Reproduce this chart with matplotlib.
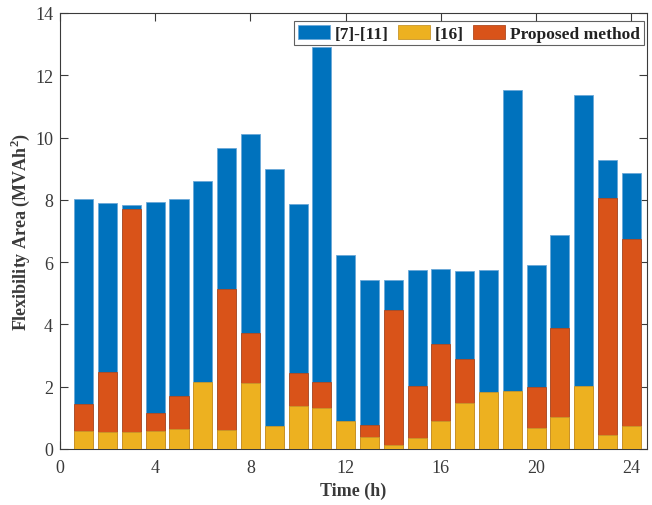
import numpy as np
import matplotlib
matplotlib.use("Agg")
import matplotlib.pyplot as plt

hours = np.arange(1, 25)
# [7]-[11]
ref_a = [8.02, 7.89, 7.85, 7.93, 8.03, 8.59, 9.68, 10.13, 9.00, 7.87, 12.90, 6.22,
         5.43, 5.42, 5.74, 5.79, 5.72, 5.76, 11.54, 5.92, 6.86, 11.38, 9.29, 8.87]
# Proposed method
proposed = [1.43, 2.46, 7.72, 1.14, 1.69, 2.10, 5.14, 3.73, 0.70, 2.45, 2.16, 0.85,
            0.77, 4.45, 2.02, 3.36, 2.88, 1.80, 1.80, 2.00, 3.88, 2.00, 8.05, 6.73]
# [16]
ref_b = [0.58, 0.56, 0.55, 0.57, 0.64, 2.14, 0.60, 2.13, 0.74, 1.39, 1.31, 0.90,
         0.37, 0.14, 0.34, 0.90, 1.49, 1.82, 1.85, 0.69, 1.03, 2.03, 0.45, 0.74]

blue = "#0072BD"
orange = "#D95319"
yellow = "#EDB120"
axcol = "#3a3a3a"

plt.rcParams["font.family"] = "serif"
plt.rcParams["font.serif"] = ["Liberation Serif", "DejaVu Serif"]
plt.rcParams["mathtext.fontset"] = "custom"
plt.rcParams["mathtext.rm"] = "Liberation Serif"
plt.rcParams["mathtext.bf"] = "Liberation Serif:bold"

fig = plt.figure(figsize=(6.52, 5.06), dpi=100)
ax = fig.add_axes([60 / 652, 56 / 506, 587 / 652, 436 / 506])

w = 0.8
b1 = ax.bar(hours, ref_a, width=w, color=blue, edgecolor="#6aa8d8", linewidth=0.6, zorder=2)
b3 = ax.bar(hours, proposed, width=w, color=orange, edgecolor="#b04a20", linewidth=0.6, zorder=3)
b2 = ax.bar(hours, ref_b, width=w, color=yellow, edgecolor="#c8962a", linewidth=0.6, zorder=4)

ax.set_xlim(0, 24.66)
ax.set_ylim(0, 14)
ax.set_xticks(np.arange(0, 25, 4))
ax.set_yticks(np.arange(0, 15, 2))
ax.tick_params(direction="in", top=True, right=True, labelsize=13, colors=axcol, length=6)
ax.tick_params(axis="x", pad=7)
ax.tick_params(axis="y", pad=5)
for s in ax.spines.values():
    s.set_color(axcol)
    s.set_linewidth(0.8)

ax.set_xlabel("Time (h)", fontsize=13, fontweight="bold", color=axcol, labelpad=4)
ax.set_ylabel(r"Flexibility Area (MVAh$^\mathbf{2}$)", fontsize=13, fontweight="bold",
              color=axcol, labelpad=2)

leg = ax.legend([b1, b2, b3], ["[7]-[11]", "[16]", "Proposed method"], ncol=3,
                loc="upper right", bbox_to_anchor=(0.997, 0.985), frameon=True, fancybox=False,
                prop={"weight": "bold", "size": 12.5}, handlelength=1.85, handleheight=0.9,
                handletextpad=0.3, columnspacing=0.5, borderpad=0.2, borderaxespad=0.1)
leg.get_frame().set_edgecolor(axcol)
leg.get_frame().set_linewidth(0.8)
for t in leg.get_texts():
    t.set_color("#222222")

fig.savefig("out.png", dpi=100)
